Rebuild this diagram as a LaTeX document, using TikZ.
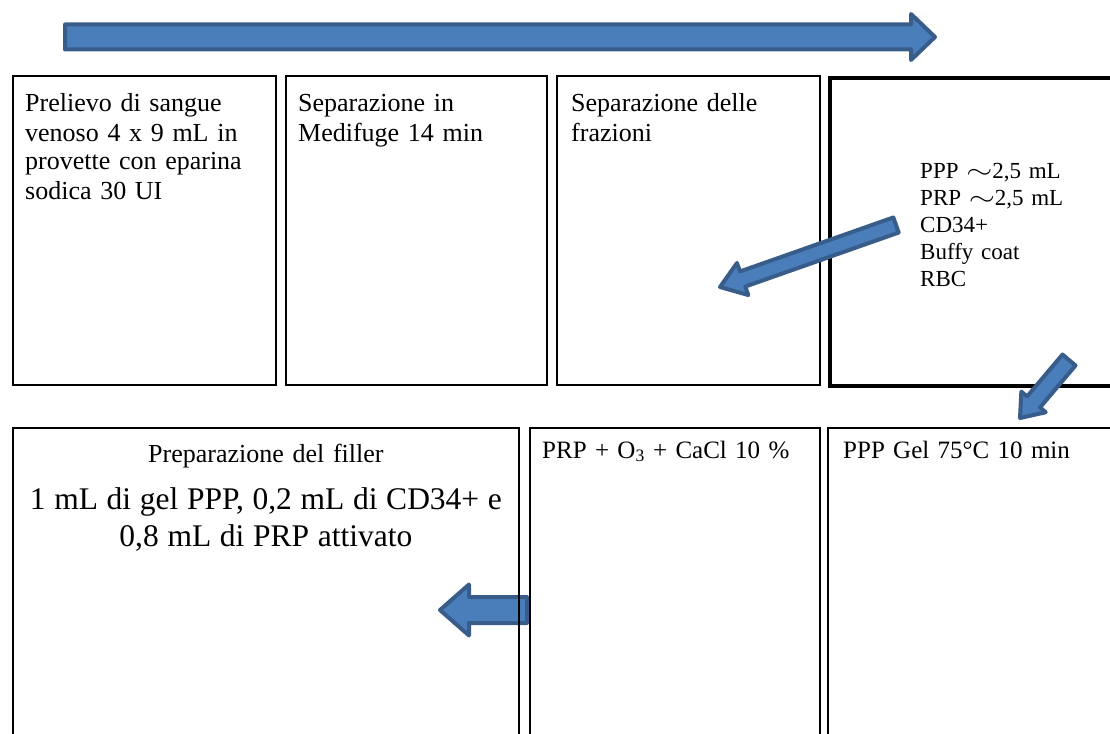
\documentclass[tikz,border=0pt]{standalone}
\usepackage{fontspec}
\setmainfont{Liberation Serif}
\usetikzlibrary{calc,positioning}
\definecolor{arrowfill}{RGB}{74,126,187}
\definecolor{arrowline}{RGB}{56,93,138}
\tikzset{
  stepbox/.style={rectangle, draw, line width=1.8pt, anchor=north west, inner sep=0pt},
  steptext/.style={anchor=base west, text width=250pt, align=left, inner sep=0pt, font=\fontsize{26}{29}\selectfont},
  blockarrow/.style={draw=arrowline, fill=arrowfill, line width=4pt, line join=round}
}
\newcommand{\wavy}{\scalebox{1.35}[1]{$\sim$}}
% tail, tip, shaft half width, head half width, head length
\newcommand{\blockarrow}[5]{%
  \coordinate (ba-head) at ($(#2)!#5!(#1)$);
  \draw[blockarrow] ($(#1)!#3!90:(#2)$) -- ($(ba-head)!#3!90:(#2)$) -- ($(ba-head)!#4!90:(#2)$)
    -- (#2) -- ($(ba-head)!#4!-90:(#2)$) -- ($(ba-head)!#3!-90:(#2)$) -- ($(#1)!#3!-90:(#2)$) -- cycle;
}

\begin{document}
\begin{tikzpicture}[x=1pt, y=-1pt]
\useasboundingbox (0,0) rectangle (1110,733);
\clip (0,0) rectangle (1110,733);

% arrow under the boxes
\coordinate (back-tail) at (527,610);
\coordinate (back-tip) at (440,610);
\blockarrow{back-tail}{back-tip}{13pt}{25.5pt}{29pt}

% top row
\node[stepbox, minimum width=263pt, minimum height=309pt] (prelievo) at (12,75) {};
\node[stepbox, minimum width=261pt, minimum height=309pt] (medifuge) at (285,75) {};
\node[stepbox, minimum width=263pt, minimum height=309pt] (frazioni) at (556,75) {};
\node[stepbox, line width=4pt, minimum width=310pt, minimum height=308pt] (fractions) at (828,76) {};

\node[steptext, xshift=13pt, yshift=-37pt] (prelievo-t) at (prelievo.north west)
  {Prelievo di sangue\\venoso 4 x 9 mL in\\provette con eparina\\sodica 30 UI};
\node[steptext, xshift=13pt, yshift=-37pt] (medifuge-t) at (medifuge.north west)
  {Separazione in\\Medifuge 14 min};
\node[steptext, xshift=15pt, yshift=-37pt] (frazioni-t) at (frazioni.north west)
  {Separazione delle\\frazioni};
\node[steptext, font=\fontsize{23}{27}\selectfont, text width=185pt] (fractions-t) at (920,178)
  {PPP \wavy2,5 mL\\PRP \wavy2,5 mL\\CD34+\\Buffy coat\\RBC};

% bottom row
\node[stepbox, minimum width=506pt, minimum height=330pt] (filler) at (12,427) {};
\node[stepbox, minimum width=290pt, minimum height=330pt] (attivazione) at (529,427) {};
\node[stepbox, minimum width=310pt, minimum height=330pt] (gel) at (827,427) {};

\node[steptext, anchor=base, text width=496pt, align=center, yshift=-35pt] (filler-t) at (filler.north)
  {Preparazione del filler\\[10pt]\fontsize{31.5}{37}\selectfont 1 mL di gel PPP, 0,2 mL di CD34+ e\\0,8 mL di PRP attivato\par};
\node[steptext, font=\fontsize{25}{29}\selectfont, xshift=13pt, yshift=-31pt] (attivazione-t) at (attivazione.north west)
  {PRP + O\textsubscript{3} + CaCl 10 \%};
\node[steptext, font=\fontsize{25}{29}\selectfont, xshift=16pt, yshift=-31pt] (gel-t) at (gel.north west)
  {PPP Gel 75°C 10 min};

% arrows over the boxes
\coordinate (flow-tail) at (65,37);
\coordinate (flow-tip) at (935,37);
\blockarrow{flow-tail}{flow-tip}{12.5pt}{23pt}{24pt}

\coordinate (split-tail) at (896,225);
\coordinate (split-tip) at (720,287);
\blockarrow{split-tail}{split-tip}{8pt}{17pt}{24pt}

\coordinate (gel-tail) at (1069,360);
\coordinate (gel-tip) at (1020,418);
\blockarrow{gel-tail}{gel-tip}{8.5pt}{16pt}{21pt}
\end{tikzpicture}
\end{document}
